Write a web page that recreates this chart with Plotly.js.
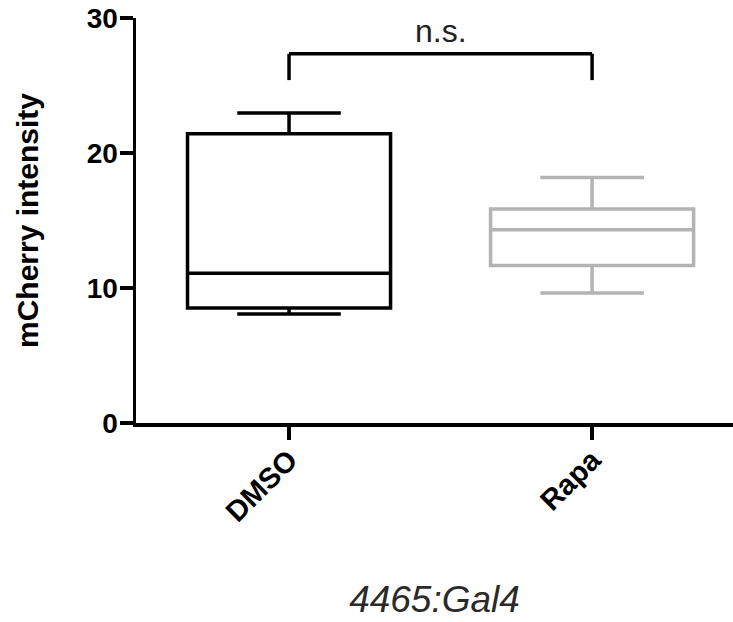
<!DOCTYPE html>
<html>
<head>
<meta charset="utf-8">
<script src="https://cdn.plot.ly/plotly-3.0.1.min.js"></script>
<style>html,body{margin:0;padding:0;background:#fff}#chart{width:733px;height:622px}</style>
</head>
<body>
<div id="chart"></div>
<script>
// Data
var categories = ['DMSO', 'Rapa'];
var lowerWhisker = [8.07, 9.63];
var q1 = [8.52, 11.67];
var medians = [11.1, 14.32];
var q3 = [21.43, 15.85];
var upperWhisker = [22.96, 18.19];
var boxColors = ['#000000', '#b3b3b3'];
var yTicks = [0, 10, 20, 30];
var bracketEnds = ['DMSO', 'Rapa'];
var bracketLevels = [25.4, 27.35];   // leg bottom, bracket top
var sigLabel = 'n.s.';
var xTitle = '4465:Gal4';
var yTitle = 'mCherry intensity';

var FONT = 'Arial, "Liberation Sans", Helvetica, sans-serif';

var traces = categories.map(function (c, i) {
  return {
    type: 'box',
    name: c,
    x: [c],
    q1: [q1[i]],
    median: [medians[i]],
    q3: [q3[i]],
    lowerfence: [lowerWhisker[i]],
    upperfence: [upperWhisker[i]],
    boxpoints: false,
    width: 0.67,
    whiskerwidth: 0.51,
    fillcolor: 'rgba(0,0,0,0)',
    line: {color: boxColors[i], width: 3.5},
    hoverinfo: 'skip'
  };
});

var shapes = [
  {type: 'line', xref: 'x', yref: 'y', x0: bracketEnds[0], x1: bracketEnds[0], y0: bracketLevels[0], y1: bracketLevels[1], line: {color: '#000', width: 3.5}},
  {type: 'line', xref: 'x', yref: 'y', x0: bracketEnds[0], x1: bracketEnds[1], y0: bracketLevels[1], y1: bracketLevels[1], line: {color: '#000', width: 3.5}},
  {type: 'line', xref: 'x', yref: 'y', x0: bracketEnds[1], x1: bracketEnds[1], y0: bracketLevels[0], y1: bracketLevels[1], line: {color: '#000', width: 3.5}}
];

var layout = {
  width: 733,
  height: 622,
  margin: {l: 136, r: 0, t: 18, b: 199},
  paper_bgcolor: '#fff',
  plot_bgcolor: '#fff',
  showlegend: false,
  font: {family: FONT, color: '#000'},
  xaxis: {
    type: 'category',
    categoryorder: 'array',
    categoryarray: categories,
    range: [-0.505, 1.465],
    showline: true, linecolor: '#000', linewidth: 3.5,
    showgrid: false, zeroline: false,
    ticks: 'outside', ticklen: 13, tickwidth: 3.5, tickcolor: '#000',
    tickangle: -45,
    ticklabelstandoff: -8,
    tickfont: {family: FONT, size: 29, color: '#000', weight: 'bold'},
    title: {text: xTitle, font: {family: FONT, size: 37, color: '#2a2a2a', style: 'italic'}, standoff: 60},
    automargin: false
  },
  yaxis: {
    range: [0, 30],
    tickvals: yTicks,
    showline: true, linecolor: '#000', linewidth: 3.5,
    showgrid: false, zeroline: false,
    ticks: 'outside', ticklen: 13, tickwidth: 3.5, tickcolor: '#000',
    ticklabelstandoff: -4,
    tickfont: {family: FONT, size: 28, color: '#000', weight: 'bold'},
    title: {text: yTitle, font: {family: FONT, size: 30, color: '#000', weight: 'bold'}, standoff: 40},
    automargin: false
  },
  shapes: shapes,
  annotations: [{
    xref: 'x', yref: 'y', x: 0.5, y: bracketLevels[1],
    text: sigLabel, showarrow: false, yanchor: 'bottom', yshift: 3,
    font: {family: FONT, size: 32, color: '#222'}
  }]
};

Plotly.newPlot('chart', traces, layout, {staticPlot: true, displayModeBar: false});
</script>
</body>
</html>
